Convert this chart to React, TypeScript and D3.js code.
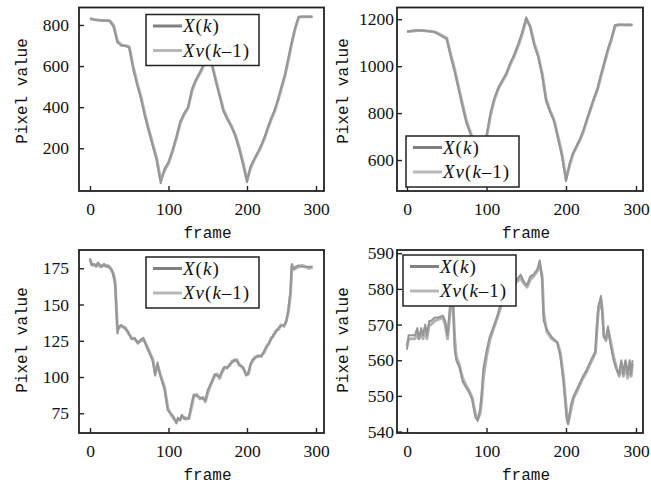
import React, { useEffect, useRef } from 'react';
import * as d3 from 'd3';

// x positions of the tick marks
const xTicks = [0, 100, 200, 300];

// panels 1 and 2: every 5th frame
const frames = [0, 5, 10, 15, 20, 25, 30, 35, 40, 45, 50, 55, 60, 65, 70, 75, 80, 85, 90, 95,
  100, 105, 110, 115, 120, 125, 130, 135, 140, 145, 150, 155, 160, 165, 170, 175, 180, 185, 190, 195,
  200, 205, 210, 215, 220, 225, 230, 235, 240, 245, 250, 255, 260, 265, 270, 275, 280, 285, 290, 295];

// top left
const yTicks1 = [200, 400, 600, 800];
const xk1 = [832, 826, 823, 822, 822, 820, 790, 715, 700, 698, 690, 585, 510, 440, 355, 280, 210, 140, 30, 100,
  132, 190, 255, 330, 370, 400, 490, 535, 570, 610, 670, 610, 530, 455, 380, 340, 305, 260, 195, 120,
  35, 110, 145, 175, 210, 250, 300, 345, 385, 440, 500, 560, 640, 720, 790, 840, 840, 840, 840, 840];
const xv1 = [830, 827, 824, 822, 822, 821, 800, 722, 702, 699, 694, 598, 518, 450, 365, 290, 220, 150, 45, 92,
  128, 182, 248, 322, 366, 396, 480, 530, 565, 602, 662, 615, 538, 462, 388, 345, 310, 266, 205, 130,
  45, 102, 140, 172, 205, 245, 294, 340, 380, 433, 493, 552, 630, 712, 784, 838, 840, 840, 840, 840];

// top right
const yTicks2 = [600, 800, 1000, 1200];
const xk2 = [1147, 1150, 1152, 1152, 1151, 1150, 1148, 1145, 1135, 1126, 1115, 1040, 975, 900, 825, 755, 710, 670, 640, 665,
  703, 800, 865, 910, 940, 970, 1015, 1050, 1095, 1145, 1208, 1165, 1090, 1040, 960, 850, 805, 765, 690, 615,
  510, 585, 630, 660, 690, 728, 775, 820, 865, 905, 965, 1020, 1075, 1120, 1175, 1176, 1176, 1176, 1176, 1175];
const xv2 = [1148, 1149, 1151, 1152, 1152, 1150, 1149, 1146, 1138, 1128, 1120, 1050, 985, 910, 835, 765, 715, 675, 645, 660,
  695, 790, 858, 905, 936, 966, 1008, 1045, 1088, 1138, 1200, 1170, 1098, 1046, 970, 860, 810, 770, 700, 625,
  520, 575, 625, 656, 686, 723, 770, 815, 860, 900, 958, 1013, 1068, 1114, 1170, 1176, 1176, 1175, 1176, 1175];

// bottom left
const yTicks3 = [75, 100, 125, 150, 175];
const frames3 = [0, 2, 5, 8, 10, 13, 15, 18, 20, 23, 25, 28, 30, 32, 35, 37, 40, 45, 49, 53,
  57, 61, 65, 68, 72, 76, 80, 83, 86, 90, 95, 99, 103, 106, 110, 112, 115, 117, 120, 122,
  126, 128, 132, 136, 140, 144, 147, 150, 155, 159, 162, 165, 168, 171, 175, 178, 181, 184, 187, 190,
  195, 199, 202, 205, 208, 212, 216, 221, 225, 228, 232, 235, 238, 242, 246, 249, 254, 257, 260, 263,
  265, 268, 270, 275, 280, 285, 290, 295];
const xk3 = [182, 177, 178, 176, 179, 177, 176, 178, 176, 177, 175, 174, 169, 164, 130, 135, 136, 133, 131, 126,
  127, 123, 126, 127, 121, 116, 111, 101, 110, 100, 91, 77, 75, 73, 68, 72, 70, 74, 71, 72,
  71, 78, 88, 87, 86, 85, 84, 91, 97, 102, 101, 100, 104, 107, 106, 109, 110, 112, 111, 108,
  107, 101, 103, 109, 112, 113, 115, 114, 118, 120, 124, 126, 129, 131, 134, 135, 136, 138, 147, 160,
  178, 174, 176, 177, 176, 176, 176, 176];
const xv3 = [181, 178, 177, 177, 178, 176, 177, 177, 177, 176, 176, 173, 171, 166, 133, 134, 135, 134, 130, 127,
  126, 124, 125, 126, 122, 117, 112, 103, 108, 101, 93, 79, 74, 72, 69, 71, 71, 73, 72, 71,
  72, 76, 86, 88, 85, 86, 83, 89, 96, 101, 102, 99, 103, 106, 107, 108, 111, 111, 112, 109,
  106, 102, 102, 108, 111, 114, 114, 115, 117, 121, 123, 127, 128, 132, 133, 136, 135, 139, 145, 157,
  176, 175, 175, 176, 177, 176, 175, 176];

// bottom right
const yTicks4 = [540, 550, 560, 570, 580, 590];
const frames4 = [0, 2, 5, 8, 10, 13, 15, 18, 20, 23, 25, 28, 30, 35, 40, 45, 48, 51, 54, 57,
  60, 62, 66, 70, 74, 78, 82, 86, 89, 92, 94, 96, 100, 104, 109, 113, 118, 125, 132, 138,
  143, 147, 151, 155, 159, 164, 167, 170, 172, 176, 182, 189, 193, 197, 201, 203, 207, 211, 216, 223,
  230, 237, 242, 244, 246, 250, 252, 254, 257, 260, 263, 268, 272, 276, 279, 282, 285, 288, 291, 293, 295];
const xk4 = [563, 567, 567, 567, 567, 569, 566, 569, 567, 570, 567, 571, 571, 572, 572, 572.5, 571, 567, 575, 582,
  563, 560, 558, 554, 552.5, 551, 549, 544, 543, 546.5, 551, 557.5, 562.5, 566.5, 569.5, 572, 576, 579, 581, 582.5,
  584, 582, 581, 583.5, 584, 585.5, 588, 582.5, 571, 568.5, 566.5, 565, 561, 553.5, 543.5, 542, 547.5, 550, 552, 555,
  557.5, 560.5, 562.5, 569.5, 575, 578, 572.5, 566.5, 566, 569.5, 565, 560, 557.5, 556, 560, 556, 560, 556, 560, 556, 560];
const xv4 = [564, 566, 566, 566, 566, 568, 566, 568, 566, 569, 566, 570, 570, 571, 571.5, 572, 570, 566, 573, 580,
  566, 561, 558.5, 555, 553, 551.5, 549.5, 545, 543.5, 545, 549, 555, 561, 565.5, 569, 571.5, 575, 578.5, 580.5, 582,
  583, 581.5, 580.5, 582.5, 583.5, 585, 587, 583.5, 573, 568, 566, 565, 562, 555, 545, 542.5, 546, 549.5, 551.5, 554.5,
  557, 560, 562, 568, 573.5, 577, 574, 567, 565.5, 568.5, 566, 561, 558, 555.5, 559, 555.5, 559.5, 555, 559, 555.5, 559];

// layout
const cols = [
  { x0: 79, x1: 324, xr: [90, 247, 316], gap: 10, labelX: 27 },
  { x0: 397, x1: 643, xr: [407, 566, 636], gap: 3, labelX: 348 },
];
const rows = [
  { y0: 7.5, y1: 191, labelY: 91 },
  { y0: 250, y1: 433, labelY: 340 },
];

const panels = [
  { col: 0, row: 0, frames, xk: xk1, xv: xv1, yTicks: yTicks1, yDomain: [-8, 885], legend: [146, 14.5] },
  { col: 1, row: 0, frames, xk: xk2, xv: xv2, yTicks: yTicks2, yDomain: [468, 1250], legend: [406, 136] },
  { col: 0, row: 1, frames: frames3, xk: xk3, xv: xv3, yTicks: yTicks3, yDomain: [61.4, 187.6], legend: [146, 257] },
  { col: 1, row: 1, frames: frames4, xk: xk4, xv: xv4, yTicks: yTicks4, yDomain: [539.6, 590.9], legend: [403, 255] },
];

const serif = "'Times New Roman', 'Liberation Serif', serif";
const mono = "'Courier New', 'Liberation Mono', monospace";

const App = () => {
  const ref = useRef<SVGSVGElement>(null);

  useEffect(() => {
    const svg = d3.select(ref.current);
    svg.selectAll('*').remove();

    panels.forEach(p => {
      const c = cols[p.col];
      const r = rows[p.row];
      const x = d3.scaleLinear().domain([0, 200, 300]).range(c.xr);
      const y = d3.scaleLinear().domain(p.yDomain).range([r.y1, r.y0]);
      const g = svg.append('g');

      const line = d3.line<number>()
        .x((_, i) => x(p.frames[i]))
        .y(d => y(d));

      g.append('path').datum(p.xv)
        .attr('d', line).attr('fill', 'none')
        .attr('stroke', '#b3b3b3').attr('stroke-width', 3)
        .attr('stroke-linejoin', 'round');
      g.append('path').datum(p.xk)
        .attr('d', line).attr('fill', 'none')
        .attr('stroke', '#969696').attr('stroke-width', 2)
        .attr('stroke-linejoin', 'round');

      // x axis, inward ticks
      const ax = g.append('g')
        .attr('transform', `translate(0,${r.y1})`)
        .call(d3.axisBottom(x).tickValues(xTicks).tickSize(-5).tickPadding(12).tickFormat(d3.format('d')));
      // y axis
      const ay = g.append('g')
        .attr('transform', `translate(${c.x0},0)`)
        .call(d3.axisLeft(y).tickValues(p.yTicks).tickSize(-5).tickPadding(c.gap).tickFormat(d3.format('d')));

      [ax, ay].forEach(a => {
        a.attr('font-family', serif).attr('font-size', 17.5);
        a.select('.domain').remove();
        a.selectAll('line').attr('stroke', '#222').attr('stroke-width', 1.4);
        a.selectAll('text')
          .attr('fill', '#111')
          .attr('font-family', serif)
          .attr('font-size', 17.5);
      });

      // frame
      g.append('rect')
        .attr('x', c.x0).attr('y', r.y0)
        .attr('width', c.x1 - c.x0).attr('height', r.y1 - r.y0)
        .attr('fill', 'none').attr('stroke', '#222').attr('stroke-width', 1.8);

      // axis titles
      g.append('text')
        .attr('x', (c.x0 + c.x1) / 2 + 6).attr('y', r.y1 + 47)
        .attr('text-anchor', 'middle')
        .attr('font-family', mono).attr('font-size', 16).attr('fill', '#111')
        .text('frame');
      g.append('text')
        .attr('transform', `translate(${c.labelX},${r.labelY}) rotate(-90)`)
        .attr('text-anchor', 'middle')
        .attr('font-family', mono).attr('font-size', 16).attr('fill', '#111')
        .text('Pixel value');

      // legend
      const [lx, ly] = p.legend;
      const lg = g.append('g').attr('transform', `translate(${lx},${ly})`);
      lg.append('rect')
        .attr('width', 113).attr('height', 51)
        .attr('fill', '#fff').attr('stroke', '#222').attr('stroke-width', 1.5);
      const items = [
        { color: '#808080', parts: [['X', true], ['(', false], ['k', true], [')', false]] },
        { color: '#b8b8b8', parts: [['Xv', true], ['(', false], ['k', true], ['–1)', false]] },
      ];
      items.forEach((it, i) => {
        const cy = 11.5 + i * 24.5;
        lg.append('line')
          .attr('x1', 7).attr('x2', 36).attr('y1', cy).attr('y2', cy)
          .attr('stroke', it.color).attr('stroke-width', 3);
        const t = lg.append('text')
          .attr('x', 37).attr('y', cy + 6)
          .attr('font-family', serif).attr('font-size', 19)
          .attr('letter-spacing', 1).attr('fill', '#111');
        it.parts.forEach(([s, isItalic]) => {
          t.append('tspan').attr('font-style', isItalic ? 'italic' : 'normal').text(s as string);
        });
      });
    });
  }, []);

  return (
    <svg ref={ref} width={651} height={485}
      style={{ position: 'absolute', left: 0, top: 0, background: '#fff' }} />
  );
};

export default App;
